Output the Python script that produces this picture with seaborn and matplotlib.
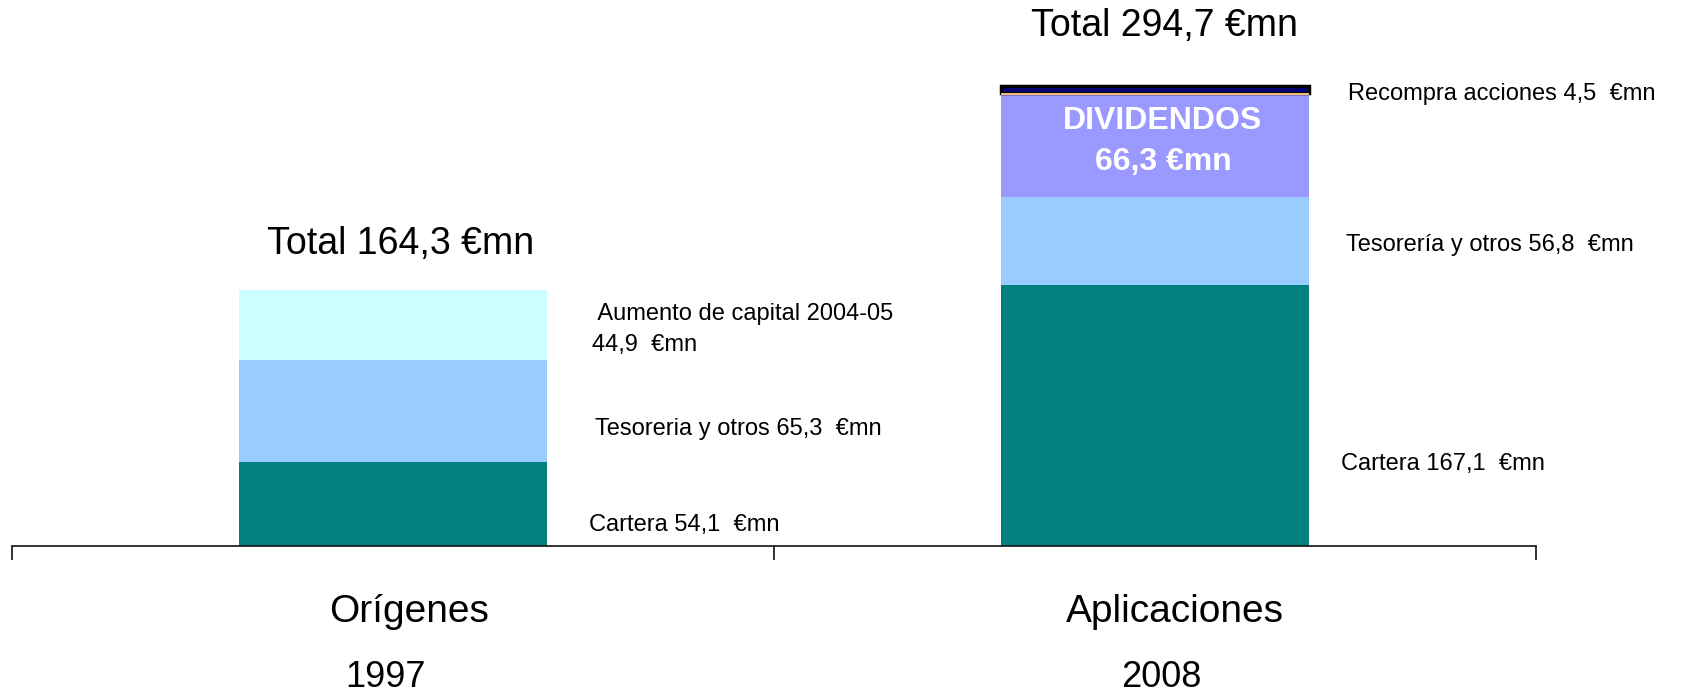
import pandas as pd
import matplotlib.pyplot as plt
import seaborn as sns

# Data (millones de euros)
categories = ['Orígenes', 'Aplicaciones']
years = ['1997', '2008']
segments = ['Cartera', 'Tesorería', 'Aumento', 'Dividendos', 'Recompra']
origenes = [54.1, 65.3, 44.9, 0.0, 0.0]
aplicaciones = [167.1, 56.8, 0.0, 66.3, 4.5]

seg_colors = {
    'Cartera': '#008080',
    'Tesorería': '#99CCFF',
    'Aumento': '#CCFFFF',
    'Dividendos': '#9999FF',
    'Recompra': '#000080',
}

rows = []
for cat, vals in zip(categories, [origenes, aplicaciones]):
    for seg, v in zip(segments, vals):
        if v > 0:
            rows.append({'categoria': cat, 'segmento': seg, 'valor': v})
df = pd.DataFrame(rows)


def fmt(v):
    return f"{v:.1f}".replace('.', ',')


sns.set_theme(style='white')
plt.rcParams['font.family'] = ['Liberation Sans', 'DejaVu Sans']
plt.rcParams['text.color'] = 'black'

fig = plt.figure(figsize=(16.83, 6.96), dpi=100)
ax = fig.add_axes([12 / 1683, 150 / 696, 1524 / 1683, 546 / 696])

sns.histplot(data=df, x='categoria', hue='segmento', weights='valor',
             multiple='stack', discrete=True, shrink=0.403,
             hue_order=segments[::-1], palette=seg_colors,
             linewidth=0, alpha=1, legend=False, ax=ax)

# border of the small share buyback block
for p in ax.patches:
    if p.get_height() > 0 and tuple(round(c, 3) for c in p.get_facecolor()[:3]) == (0.0, 0.0, round(128 / 255, 3)):
        p.set_edgecolor('black')
        p.set_linewidth(2.5)
        ax.hlines(p.get_y() - 0.6, p.get_x(), p.get_x() + p.get_width(),
                  color='#F0B880', linewidth=1.5, zorder=3)

ax.set_xlim(-0.5, 1.5)
ax.set_ylim(0, 350)
for s in ['top', 'right', 'left']:
    ax.spines[s].set_visible(False)
ax.spines['bottom'].set_color('#111111')
ax.spines['bottom'].set_linewidth(1.2)
ax.set_yticks([])
ax.set_xticks([-0.5, 0.5, 1.5])
ax.set_xticklabels([])
ax.tick_params(axis='x', direction='out', length=10, width=1.2, color='#111111', bottom=True)
ax.set_xlabel('')
ax.set_ylabel('')

# totals
fig.text(0.2383, 0.6494, f"Total {fmt(sum(origenes))} €mn", ha='center', va='center', fontsize=27)
fig.text(0.6916, 0.9626, f"Total {fmt(sum(aplicaciones))} €mn", ha='center', va='center', fontsize=27)

# segment labels
lab = dict(fontsize=17, ha='left', va='center')
fig.text(0.3518, 0.5265, f" Aumento de capital 2004-05\n{fmt(origenes[2])}  €mn", linespacing=1.5, **lab)
fig.text(0.3535, 0.3836, f"Tesoreria y otros {fmt(origenes[1])}  €mn", **lab)
fig.text(0.3500, 0.2457, f"Cartera {fmt(origenes[0])}  €mn", **lab)
fig.text(0.8010, 0.8649, f"Recompra acciones {fmt(aplicaciones[4])}  €mn", **lab)
fig.text(0.7998, 0.6480, f"Tesorería y otros {fmt(aplicaciones[1])}  €mn", **lab)
fig.text(0.7968, 0.3333, f"Cartera {fmt(aplicaciones[0])}  €mn", **lab)

fig.text(0.691, 0.7966, f"DIVIDENDOS\n{fmt(aplicaciones[3])} €mn", ha='center', va='center',
         fontsize=23, fontweight='bold', color='white', linespacing=1.45)

# category labels
fig.text(409 / 1683, 0.1207, categories[0], ha='center', va='center', fontsize=28)
fig.text(1175 / 1683, 0.1207, categories[1], ha='center', va='center', fontsize=28)
fig.text(386 / 1683, 0.0259, years[0], ha='center', va='center', fontsize=26)
fig.text(1161 / 1683, 0.0259, years[1], ha='center', va='center', fontsize=26)

plt.savefig('out.png', dpi=100)
